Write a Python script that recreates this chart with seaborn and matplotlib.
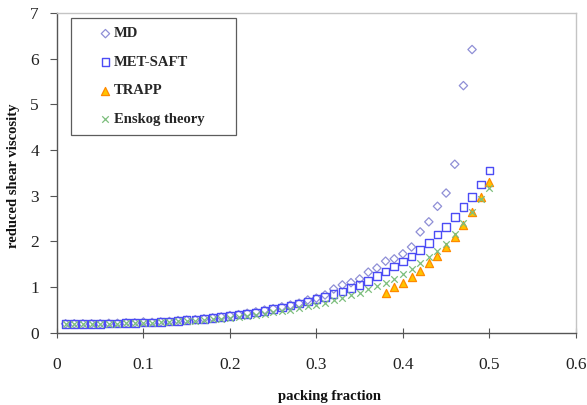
import matplotlib
matplotlib.use("Agg")
import matplotlib.pyplot as plt
import seaborn as sns

# packing fractions
phi_md = [0.01, 0.02, 0.03, 0.04, 0.05, 0.06, 0.07, 0.08, 0.09, 0.10,
          0.11, 0.12, 0.13, 0.14, 0.15, 0.16, 0.17, 0.18, 0.19, 0.20,
          0.21, 0.22, 0.23, 0.24, 0.25, 0.26, 0.27, 0.28, 0.29, 0.30,
          0.31, 0.32, 0.33, 0.34, 0.35, 0.36, 0.37, 0.38, 0.39, 0.40,
          0.41, 0.42, 0.43, 0.44, 0.45, 0.46, 0.47, 0.48]
eta_md = [0.20, 0.20, 0.20, 0.20, 0.20, 0.21, 0.21, 0.22, 0.22, 0.24,
          0.23, 0.24, 0.25, 0.27, 0.28, 0.29, 0.31, 0.33, 0.35, 0.38,
          0.40, 0.43, 0.46, 0.50, 0.53, 0.57, 0.61, 0.65, 0.72, 0.76,
          0.83, 0.96, 1.05, 1.10, 1.18, 1.33, 1.42, 1.57, 1.62, 1.73,
          1.88, 2.21, 2.43, 2.77, 3.06, 3.69, 5.41, 6.20]

phi_saft = [0.01, 0.02, 0.03, 0.04, 0.05, 0.06, 0.07, 0.08, 0.09, 0.10,
            0.11, 0.12, 0.13, 0.14, 0.15, 0.16, 0.17, 0.18, 0.19, 0.20,
            0.21, 0.22, 0.23, 0.24, 0.25, 0.26, 0.27, 0.28, 0.29, 0.30,
            0.31, 0.32, 0.33, 0.34, 0.35, 0.36, 0.37, 0.38, 0.39, 0.40,
            0.41, 0.42, 0.43, 0.44, 0.45, 0.46, 0.47, 0.48, 0.49, 0.50]
eta_saft = [0.20, 0.20, 0.20, 0.20, 0.20, 0.21, 0.21, 0.22, 0.22, 0.23,
            0.23, 0.24, 0.25, 0.26, 0.28, 0.29, 0.31, 0.33, 0.35, 0.37,
            0.40, 0.42, 0.45, 0.48, 0.52, 0.56, 0.60, 0.64, 0.69, 0.74,
            0.79, 0.85, 0.91, 0.98, 1.05, 1.14, 1.24, 1.34, 1.45, 1.56,
            1.67, 1.82, 1.97, 2.15, 2.32, 2.53, 2.76, 2.98, 3.25, 3.55]

phi_trapp = [0.38, 0.39, 0.40, 0.41, 0.42, 0.43, 0.44, 0.45, 0.46, 0.47,
             0.48, 0.49, 0.50]
eta_trapp = [0.87, 1.01, 1.09, 1.23, 1.36, 1.52, 1.68, 1.89, 2.09, 2.37,
             2.65, 2.98, 3.31]

phi_enskog = phi_saft
eta_enskog = [0.19, 0.19, 0.19, 0.19, 0.19, 0.20, 0.20, 0.21, 0.21, 0.22,
              0.22, 0.23, 0.24, 0.25, 0.26, 0.27, 0.28, 0.30, 0.31, 0.33,
              0.35, 0.37, 0.40, 0.42, 0.45, 0.48, 0.51, 0.54, 0.58, 0.62,
              0.66, 0.71, 0.76, 0.82, 0.88, 0.95, 1.02, 1.10, 1.19, 1.29,
              1.40, 1.52, 1.65, 1.80, 1.95, 2.16, 2.40, 2.65, 2.92, 3.17]

x_ticks = [0, 0.1, 0.2, 0.3, 0.4, 0.5, 0.6]
x_tick_labels = ["0", "0.1", "0.2", "0.3", "0.4", "0.5", "0.6"]
y_ticks = [0, 1, 2, 3, 4, 5, 6, 7]

sns.set_theme(style="white")
plt.rcParams["font.family"] = ["Liberation Serif", "DejaVu Serif"]

fig = plt.figure(figsize=(5.87, 4.05), dpi=100)
ax = fig.add_axes([0.097, 0.178, 0.884, 0.790])

sns.scatterplot(x=phi_md, y=eta_md, ax=ax, marker="D", s=18,
                facecolor="none", edgecolor="#8f8fd6", linewidth=0.9,
                label="MD", zorder=3)
sns.scatterplot(x=phi_saft, y=eta_saft, ax=ax, marker="s", s=30,
                facecolor="none", edgecolor="#4c4cf5", linewidth=1.0,
                label="MET-SAFT", zorder=3)
sns.scatterplot(x=phi_trapp, y=eta_trapp, ax=ax, marker="^", s=34,
                color="#ffc400", edgecolor="#ff8a00", linewidth=0.9,
                label="TRAPP", zorder=4)
sns.scatterplot(x=phi_enskog, y=eta_enskog, ax=ax, marker="x", s=22,
                color="#7dbf7d", linewidth=0.9,
                label="Enskog theory", zorder=5)

ax.set_xlim(0, 0.6)
ax.set_ylim(0, 7)
ax.set_xticks(x_ticks)
ax.set_xticklabels(x_tick_labels)
ax.set_yticks(y_ticks)
ax.tick_params(axis="x", direction="inout", length=7, width=0.8,
               colors="#555555", labelsize=12.5, labelcolor="#222222", pad=14)
ax.tick_params(axis="y", direction="out", length=5, width=0.8,
               colors="#555555", labelsize=12.5, labelcolor="#222222", pad=8)
ax.tick_params(bottom=True, left=True)

for side in ("left", "bottom"):
    ax.spines[side].set_color("#555555")
    ax.spines[side].set_linewidth(1.0)
for side in ("top", "right"):
    ax.spines[side].set_color("#c4c4c4")
    ax.spines[side].set_linewidth(1.0)

ax.set_xlabel("packing fraction", fontsize=10.5, fontweight="bold",
              color="#111111")
ax.set_ylabel("reduced shear viscosity", fontsize=10.5, fontweight="bold",
              color="#111111")
ax.xaxis.set_label_coords(0.526, -0.178)
ax.yaxis.set_label_coords(-0.072, 0.49)

# legend box spans a fixed width; markers sit close to their labels
leg = ax.legend(loc="upper left", bbox_to_anchor=(0.027, 0.985, 0.318, 0.0),
                mode="expand",
                frameon=True, fancybox=False, edgecolor="#333333",
                prop={"family": "Liberation Serif", "weight": "bold", "size": 10.5},
                labelspacing=1.05, handletextpad=-1.16, borderpad=0.65,
                handlelength=3.43, borderaxespad=0.0)
leg.get_frame().set_linewidth(0.9)

fig.savefig("out.png", dpi=100)
